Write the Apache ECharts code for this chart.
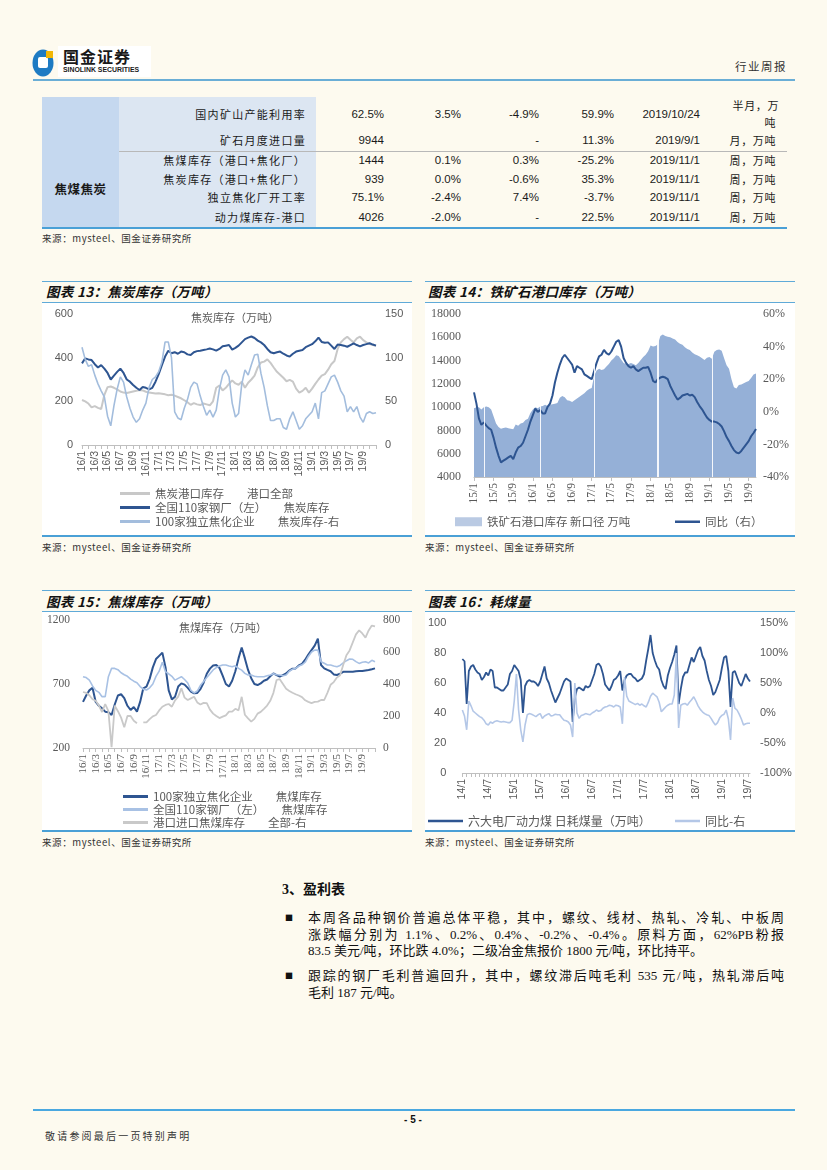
<!DOCTYPE html>
<html lang="zh-CN">
<head>
<meta charset="utf-8">
<title>焦炭焦煤库存</title>
<script src="https://cdn.jsdelivr.net/npm/echarts@6/dist/echarts.min.js"></script>
<style>
html,body{margin:0;padding:0;}
body{width:827px;height:1170px;position:relative;overflow:hidden;background:#FDFAEF;font-family:"Noto Sans CJK SC","Liberation Sans",sans-serif;color:#1a1a1a;}
.a{position:absolute;white-space:nowrap;}
.hl{position:absolute;height:1px;background:#5FAAD8;}
.bl{position:absolute;height:2px;background:#4AA0D6;}
.ctitle{position:absolute;font-style:italic;font-weight:bold;font-size:13.5px;line-height:16px;color:#111;letter-spacing:0.3px;}
.src{position:absolute;font-size:9.5px;line-height:12px;color:#333;letter-spacing:0.6px;}
.panel{position:absolute;background:#FFFFFF;}
.chart{position:absolute;}
.cell{position:absolute;font-size:11.5px;line-height:14px;color:#1a1a1a;white-space:nowrap;}
.numc{font-family:"Liberation Sans",sans-serif;text-align:right;}
.lab{font-size:11px;letter-spacing:1.3px;text-align:right;}
.unit{font-size:11px;letter-spacing:0.6px;text-align:right;}
.para{position:absolute;left:308px;width:476px;font-family:"Liberation Serif","Noto Sans CJK SC",serif;font-size:13px;line-height:16.5px;color:#111;}
.jl{text-align:justify;text-align-last:justify;white-space:nowrap;}
.bul{position:absolute;left:285px;font-size:8px;line-height:10px;color:#111;}
</style>
</head>
<body>

<!-- header -->
<svg class="a" style="left:31px;top:47px" width="26" height="31" viewBox="0 0 26 31">
  <ellipse cx="12" cy="16" rx="10.5" ry="13.5" fill="#1E7BC3"/>
  <rect x="7" y="10" width="10" height="11" rx="2" fill="#FFFFFF"/>
  <rect x="15" y="4" width="7" height="7" fill="#F2B705"/>
</svg>
<div class="a" style="left:58px;top:46px;width:93px;height:31px;background:#FFFFFF;"></div>
<div class="a" style="left:63px;top:47px;font-size:16px;line-height:18px;font-weight:bold;letter-spacing:1px;color:#1a1a1a;">国金证券</div>
<div class="a" style="left:63px;top:66px;font-family:'Liberation Sans',sans-serif;font-size:6.9px;line-height:8px;font-weight:bold;color:#1a1a1a;">SINOLINK SECURITIES</div>
<div class="a" style="left:735px;top:59px;font-size:11.5px;line-height:14px;letter-spacing:1.5px;color:#333;">行业周报</div>
<div class="a" style="left:33px;top:79px;width:762px;height:2px;background:#6AAED6;"></div>

<!-- table -->
<div class="a" style="left:42px;top:97px;width:77px;height:131px;background:#C5D8EF;"></div>
<div class="a" style="left:119px;top:97px;width:197px;height:131px;background:#DCE6F2;"></div>
<div class="a" style="left:119px;top:151px;width:668px;height:1px;background:#B8B8B8;"></div>
<div class="a" style="left:42px;top:227px;width:745px;height:2px;background:#4AA0D6;"></div>
<div class="a" style="left:42px;top:181px;width:77px;text-align:center;font-size:12.5px;line-height:15px;font-weight:bold;letter-spacing:0.5px;">焦煤焦炭</div>
<div id="tbl"></div>
<div class="src" style="left:42px;top:232px;">来源：mysteel、国金证券研究所</div>

<!-- chart 13 -->
<div class="hl" style="left:42px;top:281px;width:370px;"></div>
<div class="ctitle" style="left:46px;top:283px;">图表 13：焦炭库存（万吨）</div>
<div class="hl" style="left:42px;top:302px;width:370px;"></div>
<div class="panel" style="left:42px;top:303px;width:370px;height:232px;"></div>
<div class="bl" style="left:42px;top:535px;width:370px;"></div>
<div class="src" style="left:42px;top:541px;">来源：mysteel、国金证券研究所</div>
<div id="cA" class="chart" style="left:42px;top:303px;width:370px;height:232px;"></div>

<!-- chart 14 -->
<div class="hl" style="left:425px;top:281px;width:370px;"></div>
<div class="ctitle" style="left:428px;top:283px;">图表 14：铁矿石港口库存（万吨）</div>
<div class="hl" style="left:425px;top:302px;width:370px;"></div>
<div class="panel" style="left:425px;top:303px;width:370px;height:232px;"></div>
<div class="bl" style="left:425px;top:535px;width:370px;"></div>
<div class="src" style="left:425px;top:541px;">来源：mysteel、国金证券研究所</div>
<div id="cB" class="chart" style="left:425px;top:303px;width:370px;height:232px;"></div>

<!-- chart 15 -->
<div class="hl" style="left:42px;top:590px;width:370px;"></div>
<div class="ctitle" style="left:46px;top:593px;">图表 15：焦煤库存（万吨）</div>
<div class="hl" style="left:42px;top:611px;width:370px;"></div>
<div class="panel" style="left:42px;top:612px;width:370px;height:218px;"></div>
<div class="bl" style="left:42px;top:830px;width:370px;"></div>
<div class="src" style="left:42px;top:836px;">来源：mysteel、国金证券研究所</div>
<div id="cC" class="chart" style="left:42px;top:612px;width:370px;height:218px;"></div>

<!-- chart 16 -->
<div class="hl" style="left:425px;top:590px;width:370px;"></div>
<div class="ctitle" style="left:428px;top:593px;">图表 16：耗煤量</div>
<div class="hl" style="left:425px;top:611px;width:370px;"></div>
<div class="panel" style="left:425px;top:612px;width:370px;height:218px;"></div>
<div class="bl" style="left:425px;top:830px;width:370px;"></div>
<div class="src" style="left:425px;top:836px;">来源：mysteel、国金证券研究所</div>
<div id="cD" class="chart" style="left:425px;top:612px;width:370px;height:218px;"></div>

<!-- text section -->
<div class="a" style="left:282px;top:881px;font-family:'Liberation Serif','Noto Sans CJK SC',serif;font-size:14px;line-height:18px;font-weight:bold;color:#111;">3、盈利表</div>
<div class="bul" style="top:913px;">■</div>
<div class="para" style="top:910px;">
  <div class="jl">本周各品种钢价普遍总体平稳，其中，螺纹、线材、热轧、冷轧、中板周</div>
  <div class="jl">涨跌幅分别为 1.1%、0.2%、0.4%、-0.2%、-0.4%。原料方面，62%PB粉报</div>
  <div style="white-space:nowrap;">83.5 美元/吨，环比跌 4.0%；二级冶金焦报价 1800 元/吨，环比持平。</div>
</div>
<div class="bul" style="top:971px;">■</div>
<div class="para" style="top:968px;">
  <div class="jl">跟踪的钢厂毛利普遍回升，其中，螺纹滞后吨毛利 535 元/吨，热轧滞后吨</div>
  <div style="white-space:nowrap;">毛利 187 元/吨。</div>
</div>

<!-- footer -->
<div class="a" style="left:33px;top:1109px;width:762px;height:2px;background:#4AA8E0;"></div>
<div class="a" style="left:393px;top:1114px;width:40px;text-align:center;font-family:'Liberation Sans',sans-serif;font-size:10px;line-height:12px;font-weight:bold;color:#111;">- 5 -</div>
<div class="a" style="left:45px;top:1130px;font-size:10px;line-height:12px;letter-spacing:2.2px;color:#333;">敬请参阅最后一页特别声明</div>

<script>
// ---------------- table data ----------------
const tableLabels = ['国内矿山产能利用率','矿石月度进口量','焦煤库存（港口+焦化厂）','焦炭库存（港口+焦化厂）','独立焦化厂开工率','动力煤库存-港口'];
const tableLatest = ['62.5%','9944','1444','939','75.1%','4026'];
const tableWoW    = ['3.5%','','0.1%','0.0%','-2.4%','-2.0%'];
const tableMoM    = ['-4.9%','-','0.3%','-0.6%','7.4%','-'];
const tableYoY    = ['59.9%','11.3%','-25.2%','35.3%','-3.7%','22.5%'];
const tableDate   = ['2019/10/24','2019/9/1','2019/11/1','2019/11/1','2019/11/1','2019/11/1'];
const tableUnit   = ['半月，万|吨','月，万吨','周，万吨','周，万吨','周，万吨','周，万吨'];

// ---------------- chart 13: 焦炭库存 (semi-monthly, 16/1 - 19/11) ----------------
const legendCoke = ['焦炭港口库存　　港口全部','全国110家钢厂（左）　　焦炭库存','100家独立焦化企业　　焦炭库存-右'];
const cokePort = [206,200,190,172,178,170,165,230,265,268,262,255,245,240,238,242,245,248,252,250,244,240,238,236,237,235,232,228,230,226,220,214,205,196,184,192,186,183,190,186,182,200,262,272,250,262,280,296,282,276,290,262,285,300,318,355,378,382,392,376,355,335,322,308,292,298,290,258,240,248,262,240,258,280,300,318,325,345,370,385,440,470,485,496,482,470,488,496,480,470,462,458,455];
const coke110 = [374,397,392,389,370,355,366,350,330,300,318,335,350,330,300,290,275,262,252,266,262,255,262,290,325,366,405,432,420,425,418,428,425,415,412,425,430,432,435,438,442,438,432,440,452,455,458,437,445,455,470,485,492,497,490,478,470,458,440,425,420,425,428,418,410,405,418,428,432,435,448,455,462,475,492,472,468,470,455,440,460,458,455,450,458,466,458,452,458,462,466,460,455];
const coke100 = [112,98,90,92,80,70,62,55,33,22,45,64,78,72,55,42,32,26,30,40,48,66,75,78,84,95,118,118,100,38,31,29,42,52,66,72,70,56,44,34,40,32,40,64,80,86,78,48,32,36,70,86,80,92,103,104,82,66,45,28,28,30,30,20,18,30,38,28,18,22,30,34,38,48,30,60,62,70,78,80,72,62,56,38,44,38,44,32,26,36,38,36,37];

// ---------------- chart 14: 铁矿石港口库存 (semi-monthly, 15/1 - 19/10) ----------------
const legendIron = ['铁矿石港口库存 新口径 万吨','同比（右）'];
const ironStock = [9900,10000,10000,9800,10000,10050,10000,9800,9200,8600,8300,8150,8200,8250,8180,8150,8100,8500,8400,8600,8650,8900,9000,9500,9800,10000,9900,10050,10100,10200,10100,10200,10250,10300,10350,10800,10950,10850,10600,10550,10450,10600,10750,10900,11050,11200,11400,11550,11650,12700,13150,13300,13200,13250,13500,13700,14000,14200,14450,14400,14100,13800,13700,13700,13800,13700,13600,13800,14050,14300,14500,14800,15300,15200,15250,15400,16100,16250,16100,16050,16000,15900,15800,15600,15450,15350,15150,15000,14900,14700,14550,14450,14350,14200,14050,14250,14300,14150,14750,14900,14950,14850,14200,13600,13300,12400,11700,11600,11900,11950,12050,12150,12250,12500,12800,12900];
const ironYoY = [11.9,5,-4,-8,-6.5,-8.5,-10,-11,-16,-22,-27,-31,-30,-29,-28,-27,-29,-25,-22,-21,-19,-15,-11,-6,-2,2,0,1,-1,-1,3,5,10,18,24,29,33,35,33,31,29,24,28,27,26,23,22,21,20,25,30,34,35,38,36,35,37,40,43,44,40,33,30,28,27,28,26,25,26,27,27,27.5,24,19,18,20,21,21.5,21,20,16,13,10,7.5,8.5,10,10.5,11,10,10.5,9,6,3.5,1.5,-1,-3.5,-5,-6,-6,-6.5,-7.5,-9,-12,-15.5,-18,-21,-23.5,-25,-25.5,-24,-22,-20,-18,-15,-13,-10.5];
const ironGapCats = ['15/3','16/2b','17/1b','18/2b','19/1b'];

// ---------------- chart 15: 焦煤库存 (semi-monthly, 16/1 - 19/11) ----------------
const legendCoal = ['100家独立焦化企业　　焦煤库存','全国110家钢厂（左）　　焦煤库存','港口进口焦煤库存　　全部-右'];
const coal100 = [560,610,650,670,560,530,510,484,479,458,540,610,620,590,530,497,520,484,560,666,680,740,830,895,920,945,830,650,580,600,680,705,695,670,640,627,630,660,710,780,820,845,848,825,765,700,680,725,800,900,985,900,810,745,700,692,705,725,735,760,783,770,757,770,783,805,820,822,845,858,890,930,965,1000,1055,848,822,810,800,775,770,780,795,796,796,796,800,801,801,805,809,815,822];
const coal110 = [757,750,730,685,650,635,601,601,757,822,822,812,788,772,760,738,722,710,680,660,653,670,700,760,800,870,795,780,760,730,744,757,735,708,650,630,645,690,720,750,780,810,828,840,848,848,840,835,842,822,808,783,770,770,760,757,757,757,765,770,780,772,770,765,770,800,815,822,840,850,870,915,950,965,965,874,862,848,848,840,835,845,865,882,895,893,875,861,870,874,865,885,874];
const coalPort = [350,345,330,305,295,265,225,275,230,5,265,230,190,130,200,200,170,155,null,160,160,180,198,206,235,258,269,275,258,298,321,373,315,300,310,320,285,272,282,280,240,215,200,187,196,204,227,227,245,235,320,208,185,165,182,215,226,245,265,295,345,425,430,400,370,356,345,336,328,318,298,288,280,288,290,300,300,345,395,412,440,455,520,580,610,660,710,735,716,690,735,765,760];

// ---------------- chart 16: 耗煤量 (semi-monthly, 14/1 - 19/7) ----------------
const legendBurn = ['六大电厂动力煤 日耗煤量（万吨）','同比-右'];
const burnDaily = [76,74.5,46,68,71,72,69,67,66,62,64,67,65,69,68,57,57,56,55,55,57,59,66,68,72,70,68,62,40,58,61,62,61,61,60,58,61,66,71,63,60,55,51,47,50,53,57,61,63,62,61,34,50,56,57,56,55,58,57,58,62,66,72,73,71,66,59,57,55,58,62,63,65,68,55,62,65,66,66,64,63,61,62,63,66,75,83,92,80,75,71,69,62,58,56,65,70,74,79,85,46,56,64,67,67,72,77,74,78,82,84,78,75,68,62,58,52,54,58,62,70,77,78,68,44,67,68,64,60,58,62,66,63,61];
const burnYoY = [5,-5,-28,20,12,3,0,-3,-6,-8,-12,-18,-20,-15,-17,-14,-13,-14,-15,-14,-15,-16,-16,-12,20,65,5,-28,-48,-20,-3,-1,-2,-4,-6,-3,-1,-9,-5,-3,-1,-5,-4,-2,-3,-3,-8,-12,-13,-15,-20,-40,50,0,-9,-4,-3,-1,-2,-3,0,2,5,3,4,8,10,11,13,12,10,13,12,10,-18,60,28,20,18,16,14,16,13,15,12,10,18,28,33,30,27,18,2,6,10,13,15,15,30,100,-25,13,15,16,13,18,22,27,20,12,6,2,-1,-3,-4,-9,-15,-20,-16,-8,-4,-2,5,-10,-45,25,8,5,-2,-10,-20,-18,-17,-17];

// semi-monthly category names: first half "YY/M", second half "YY/Mb"
function halfMonthCats(y, m, n) {
  const out = [];
  for (let i = 0; i < n; i++) {
    out.push(i % 2 === 0 ? y + '/' + m : y + '/' + m + 'b');
    if (i % 2 === 1) { m++; if (m > 12) { m = 1; y++; } }
  }
  return out;
}
const catsCoke = halfMonthCats(16, 1, coke110.length);
const catsIron = halfMonthCats(15, 1, ironStock.length);
const catsCoal = halfMonthCats(16, 1, coal100.length);
const catsBurn = halfMonthCats(14, 1, burnDaily.length);

// ---------------- build table ----------------
(function () {
  const rowsY = [107, 133, 153, 172, 190, 210];
  const colRight = [384, 461, 539, 614, 700];
  const cols = [tableLatest, tableWoW, tableMoM, tableYoY, tableDate];
  let html = '';
  tableLabels.forEach((lab, r) => {
    const y = rowsY[r];
    html += `<div class="cell lab" style="right:${827 - 306}px;top:${y}px;">${lab}</div>`;
    cols.forEach((c, k) => {
      html += `<div class="cell numc" style="right:${827 - colRight[k]}px;top:${y}px;">${c[r]}</div>`;
    });
    const u = tableUnit[r].split('|');
    if (u.length === 2) {
      html += `<div class="cell unit" style="right:${827 - 779}px;top:${y - 9}px;">${u[0]}</div>`;
      html += `<div class="cell unit" style="right:${827 - 776}px;top:${y + 8}px;">${u[1]}</div>`;
    } else {
      html += `<div class="cell unit" style="right:${827 - 776}px;top:${y}px;">${u[0]}</div>`;
    }
  });
  document.getElementById('tbl').innerHTML = html;
})();

// ---------------- chart helpers ----------------
const CJK = '"Noto Sans CJK SC", sans-serif';
const SANS = '"Liberation Sans", "Noto Sans CJK SC", sans-serif';
const SERIF = '"Liberation Serif", "Noto Sans CJK SC", serif';
const AXIS_GREY = '#BFBFBF';
const LABEL_GREY = '#595959';
const plain = (v) => String(v);
const pct = (v) => v + '%';

function catAxis(cats, labelEvery, tickEvery, font, size) {
  const showLabel = (i) => i % labelEvery === 0 && i !== cats.length - 1;
  return {
    type: 'category', data: cats, boundaryGap: false,
    axisLine: { onZero: false, lineStyle: { color: AXIS_GREY, width: 1 } },
    axisTick: { interval: (i) => i % tickEvery === 0, length: 4, lineStyle: { color: AXIS_GREY } },
    axisLabel: {
      interval: (i) => showLabel(i), rotate: 90, margin: 6,
      formatter: (v) => (showLabel(cats.indexOf(v)) ? v : ''),
      color: LABEL_GREY, fontFamily: font, fontSize: size
    },
    splitLine: { show: false }
  };
}
function valAxis(min, max, interval, pos, font, size, margin, fmt) {
  return {
    type: 'value', position: pos, min: min, max: max, interval: interval,
    splitLine: { show: false }, axisLine: { show: false }, axisTick: { show: false },
    axisLabel: { color: LABEL_GREY, fontFamily: font, fontSize: size, margin: margin, formatter: fmt || plain }
  };
}
function lineSeries(name, data, color, width, yIdx) {
  return {
    name: name, type: 'line', data: data, yAxisIndex: yIdx, symbol: 'none', showSymbol: false,
    connectNulls: false,
    lineStyle: { color: color, width: width }, itemStyle: { color: color }, emphasis: { disabled: true }
  };
}
function legendLines(names) {
  return names.map((n) => ({ name: n, icon: 'rect' }));
}
function innerTitle(text, x, y) {
  return { type: 'text', x: x, y: y, silent: true,
    style: { text: text, fill: LABEL_GREY, font: '11px ' + CJK, textAlign: 'center', textVerticalAlign: 'middle', align: 'center', verticalAlign: 'middle' } };
}

const DARK = '#2E5591';

// ---------------- chart 13 ----------------
const chA = echarts.init(document.getElementById('cA'));
chA.setOption({
  animation: false,
  textStyle: { fontFamily: CJK },
  grid: { left: 40, right: 36, top: 11, height: 131 },
  graphic: [innerTitle('焦炭库存（万吨）', 193, 15)],
  legend: {
    orient: 'vertical', left: 78, top: 184, padding: 0, height: 48,
    itemWidth: 30, itemHeight: 3, itemGap: 1,
    textStyle: { fontSize: 11.5, color: LABEL_GREY, lineHeight: 13, fontFamily: CJK },
    data: legendLines(legendCoke)
  },
  xAxis: catAxis(catsCoke, 4, 2, SANS, 10.5),
  yAxis: [valAxis(0, 600, 200, 'left', SANS, 11, 9), valAxis(0, 150, 50, 'right', SANS, 11, 9)],
  series: [
    lineSeries(legendCoke[0], cokePort, '#C8C8C8', 2, 0),
    lineSeries(legendCoke[1], coke110, DARK, 2, 0),
    lineSeries(legendCoke[2], coke100, '#A3BDDD', 1.6, 1)
  ]
});

// ---------------- chart 14 ----------------
const chB = echarts.init(document.getElementById('cB'));
chB.setOption({
  animation: false,
  textStyle: { fontFamily: CJK },
  grid: { left: 49, right: 39, top: 11, height: 163 },
  legend: [
    { left: 30, top: 213, padding: 0, itemWidth: 27, itemHeight: 9,
      textStyle: { fontSize: 11.5, color: LABEL_GREY, fontFamily: CJK },
      data: [{ name: legendIron[0], icon: 'rect', itemStyle: { color: '#BACAE3' } }] },
    { left: 250, top: 213, padding: 0, itemWidth: 25, itemHeight: 2.5,
      textStyle: { fontSize: 11.5, color: LABEL_GREY, fontFamily: CJK },
      data: legendLines([legendIron[1]]) }
  ],
  xAxis: catAxis(catsIron, 8, 8, SERIF, 11.5),
  yAxis: [valAxis(4000, 18000, 2000, 'left', SERIF, 12, 13),
          valAxis(-40, 60, 20, 'right', SERIF, 12, 7, pct)],
  series: [
    { name: legendIron[0], type: 'line', data: ironStock, yAxisIndex: 0, symbol: 'none', showSymbol: false,
      lineStyle: { width: 0, color: '#95B0D7' }, itemStyle: { color: '#95B0D7' },
      areaStyle: { color: '#95B0D7', opacity: 1, origin: 'start' }, emphasis: { disabled: true },
      markLine: { silent: true, symbol: 'none', label: { show: false },
        lineStyle: { color: '#FFFFFF', width: 1, type: 'solid', opacity: 0.9 },
        emphasis: { disabled: true },
        data: ironGapCats.map((c, i) => ({ xAxis: catsIron.indexOf(c), lineStyle: { color: '#FFFFFF', type: 'solid', width: i === 3 ? 2 : 1 } })) } },
    lineSeries(legendIron[1], ironYoY, DARK, 2, 1)
  ]
});

// ---------------- chart 15 ----------------
const chC = echarts.init(document.getElementById('cC'));
chC.setOption({
  animation: false,
  textStyle: { fontFamily: CJK },
  grid: { left: 41, right: 37, top: 8, height: 128 },
  graphic: [innerTitle('焦煤库存（万吨）', 181, 16)],
  legend: {
    orient: 'vertical', left: 81, top: 178, padding: 0, height: 42,
    itemWidth: 25, itemHeight: 3, itemGap: 0,
    textStyle: { fontSize: 11.5, color: LABEL_GREY, lineHeight: 13, fontFamily: CJK },
    data: legendLines(legendCoal)
  },
  xAxis: catAxis(catsCoal, 4, 2, SERIF, 11),
  yAxis: [valAxis(200, 1200, 500, 'left', SERIF, 11.5, 13), valAxis(0, 800, 200, 'right', SERIF, 11.5, 8)],
  series: [
    lineSeries(legendCoal[0], coal100, DARK, 2, 0),
    lineSeries(legendCoal[1], coal110, '#A8C1E4', 1.6, 0),
    lineSeries(legendCoal[2], coalPort, '#C9C9C9', 1.8, 1)
  ]
});

// ---------------- chart 16 ----------------
const chD = echarts.init(document.getElementById('cD'));
chD.setOption({
  animation: false,
  textStyle: { fontFamily: CJK },
  grid: { left: 37, right: 45, top: 11, height: 150 },
  legend: [
    { left: 3, top: 203, padding: 0, itemWidth: 35, itemHeight: 2.5,
      textStyle: { fontSize: 12, color: LABEL_GREY, fontFamily: CJK }, data: legendLines([legendBurn[0]]) },
    { left: 250, top: 203, padding: 0, itemWidth: 25, itemHeight: 2.5,
      textStyle: { fontSize: 12, color: LABEL_GREY, fontFamily: CJK }, data: legendLines([legendBurn[1]]) }
  ],
  xAxis: catAxis(catsBurn, 12, 2, SANS, 10.5),
  yAxis: [valAxis(0, 100, 20, 'left', SANS, 11, 16),
          valAxis(-100, 150, 50, 'right', SANS, 11, 10, pct)],
  series: [
    lineSeries(legendBurn[0], burnDaily, DARK, 1.8, 0),
    lineSeries(legendBurn[1], burnYoY, '#B4C7E7', 1.6, 1)
  ]
});
</script>
</body>
</html>
